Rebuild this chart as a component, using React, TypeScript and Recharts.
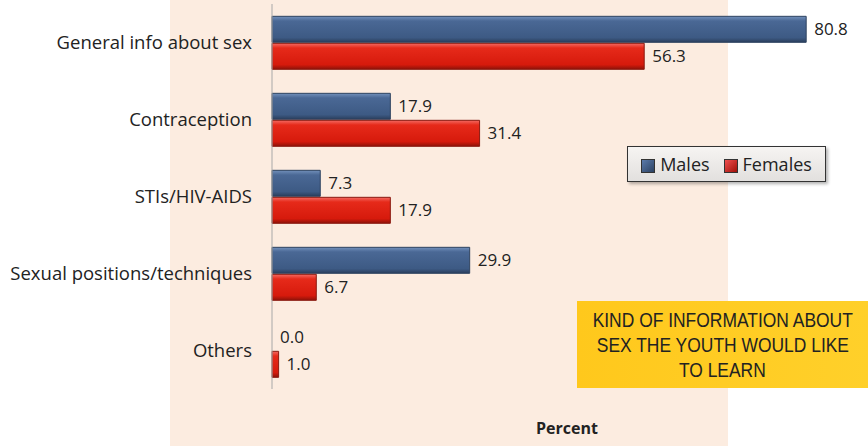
import React from 'react';
import { BarChart, Bar, XAxis, YAxis, LabelList, Cell } from 'recharts';

const categories = ['General info about sex', 'Contraception', 'STIs/HIV-AIDS', 'Sexual positions/techniques', 'Others'];
const males = [80.8, 17.9, 7.3, 29.9, 0.0];
const females = [56.3, 31.4, 17.9, 6.7, 1.0];
const seriesNames = ['Males', 'Females'];
const titleLines = ['KIND OF INFORMATION ABOUT', 'SEX THE YOUTH WOULD LIKE', 'TO LEARN'];

const rows = categories.map((c, i) => ({ category: c, males: males[i], females: females[i] }));

const FONT = '"Open Sans", "Noto Sans", sans-serif';

// value label drawn to the right of the bar, also for zero-length bars
const valueLabel = (props: any) => {
  const { x, y, width, height, value } = props;
  return (
    <text x={Number(x) + Number(width) + 8} y={Number(y) + Number(height) / 2} dy="0.35em"
      fontFamily={FONT} fontSize={17} fill="#222">{Number(value).toFixed(1)}</text>
  );
};

function LegendBox() {
  const sw = (c1: string, c2: string) => (
    <span style={{ display: 'inline-block', width: 12, height: 12, background: `linear-gradient(135deg, ${c1}, ${c2})`, border: '1px solid #333', marginRight: 5, verticalAlign: 'middle' }} />
  );
  return (
    <div style={{
      position: 'absolute', left: 627, top: 146, width: 197, height: 34,
      border: '1px solid #333', background: 'linear-gradient(#f6f4f2, #e2e0de)',
      boxShadow: '2px 2px 3px rgba(0,0,0,0.3)', fontFamily: FONT, fontSize: 18, color: '#222',
      display: 'flex', alignItems: 'center', justifyContent: 'center', gap: 14,
    }}>
      <span>{sw('#5b7bab', '#2c4262')}{seriesNames[0]}</span>
      <span>{sw('#f05050', '#a01008')}{seriesNames[1]}</span>
    </div>
  );
}

export default function App() {
  return (
    <div style={{ position: 'fixed', left: 0, top: 0, width: 868, height: 446, background: '#fff', overflow: 'hidden' }}>
      <div style={{ position: 'absolute', left: 170, top: 0, width: 558, height: 446, background: '#fcece0' }} />
      <div style={{ position: 'absolute', left: 0, top: 0 }}>
        <BarChart width={868} height={446} data={rows} layout="vertical"
          margin={{ top: 4, right: 1, bottom: 57, left: 0 }} barCategoryGap="16%" barGap={1}>
          <defs>
            <linearGradient id="gMale" x1="0" y1="0" x2="0" y2="1">
              <stop offset="0%" stopColor="#7290bb" />
              <stop offset="18%" stopColor="#4a6895" />
              <stop offset="82%" stopColor="#3d5a84" />
              <stop offset="100%" stopColor="#2a3e5c" />
            </linearGradient>
            <linearGradient id="gFemale" x1="0" y1="0" x2="0" y2="1">
              <stop offset="0%" stopColor="#f46a62" />
              <stop offset="18%" stopColor="#e62a1a" />
              <stop offset="82%" stopColor="#d61a0c" />
              <stop offset="100%" stopColor="#8e1208" />
            </linearGradient>
          </defs>
          <XAxis type="number" domain={[0, 90]} hide />
          <YAxis type="category" dataKey="category" width={272} axisLine={{ stroke: '#a8a8a8' }} tickLine={false}
            tick={{ fontFamily: FONT, fontSize: 18.5, fill: '#222' }} tickMargin={14} />
          <Bar dataKey="males" name={seriesNames[0]} fill="url(#gMale)" strokeWidth={1}
            minPointSize={(v: any) => (Number(v) === 0 ? 0.01 : 0)} isAnimationActive={false}>
            {males.map((v, i) => <Cell key={i} stroke={v === 0 ? 'none' : '#2e4360'} />)}
            <LabelList dataKey="males" content={valueLabel} />
          </Bar>
          <Bar dataKey="females" name={seriesNames[1]} fill="url(#gFemale)" stroke="#8a1a10" strokeWidth={1} isAnimationActive={false}>
            <LabelList dataKey="females" content={valueLabel} />
          </Bar>
        </BarChart>
      </div>
      <LegendBox />
      <div style={{
        position: 'absolute', left: 577, top: 301, width: 291, height: 87,
        background: 'linear-gradient(90deg, #ffc81c, #ffd02a)',
        display: 'flex', flexDirection: 'column', alignItems: 'center', justifyContent: 'center',
      }}>
        {titleLines.map(t => (
          <div key={t} style={{ fontFamily: '"Liberation Sans", Arial, sans-serif', fontSize: 21, lineHeight: '25px', color: '#222', transform: 'scaleX(0.83)', whiteSpace: 'nowrap' }}>{t}</div>
        ))}
      </div>
      <div style={{ position: 'absolute', left: 533, top: 417, width: 68, textAlign: 'center', fontFamily: FONT, fontWeight: 700, fontSize: 16, color: '#222' }}>Percent</div>
    </div>
  );
}
